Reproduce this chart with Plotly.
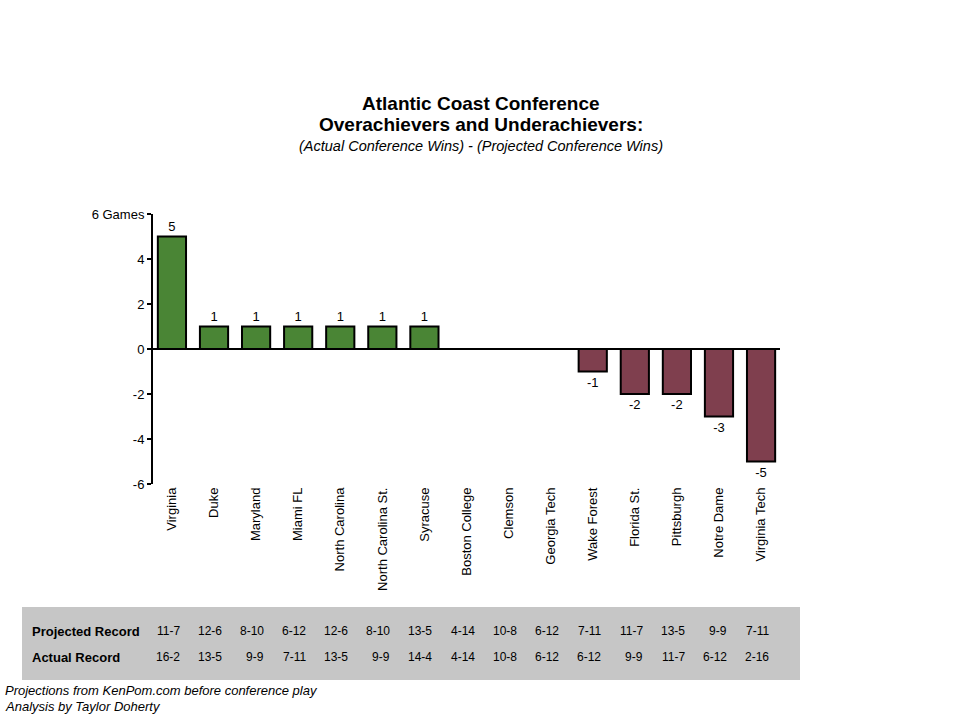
import plotly.graph_objects as go

teams = ['Virginia', 'Duke', 'Maryland', 'Miami FL', 'North Carolina', 'North Carolina St.',
         'Syracuse', 'Boston College', 'Clemson', 'Georgia Tech', 'Wake Forest',
         'Florida St.', 'Pittsburgh', 'Notre Dame', 'Virginia Tech']
diff = [5, 1, 1, 1, 1, 1, 1, 0, 0, 0, -1, -2, -2, -3, -5]
projected = ['11-7', '12-6', '8-10', '6-12', '12-6', '8-10', '13-5', '4-14',
             '10-8', '6-12', '7-11', '11-7', '13-5', '9-9', '7-11']
actual = ['16-2', '13-5', '9-9', '7-11', '13-5', '9-9', '14-4', '4-14',
          '10-8', '6-12', '6-12', '9-9', '11-7', '6-12', '2-16']
ytick_vals = [-6, -4, -2, 0, 2, 4, 6]
ytick_text = ['-6', '-4', '-2', '0', '2', '4', '6 Games']

FONT = 'Arial, Liberation Sans, sans-serif'
GREEN = '#4a8535'
MAROON = '#7f3f4e'

# px -> paper helpers (plot area: x 153..780, y 214..484)
L, R, T, B = 153, 780, 214, 484
def px_x(p):
    return (p - L) / (R - L)
def px_y(p):
    return (B - p) / (B - T)

colors = [GREEN if d > 0 else MAROON for d in diff]
labels = [str(d) if d != 0 else '' for d in diff]

fig = go.Figure()
fig.add_trace(go.Bar(
    x=teams, y=diff, width=0.67,
    marker=dict(color=colors, line=dict(color='black', width=2)),
    text=labels, textposition='outside', cliponaxis=False,
    textfont=dict(family=FONT, size=13, color='black'),
    hoverinfo='skip',
))

def note(x, y, text, size=12, xanchor='center', xref='paper', xshift=0):
    fig.add_annotation(x=x, y=y, xref=xref, yref='paper', showarrow=False,
                       xanchor=xanchor, yanchor='middle', xshift=xshift, text=text,
                       font=dict(family=FONT, size=size, color='black'))

# title block
note(px_x(481), px_y(104), '<b>Atlantic Coast Conference</b>', size=19)
note(px_x(481), px_y(124), '<b>Overachievers and Underachievers:</b>', size=19)
note(px_x(481), px_y(146), '<i>(Actual Conference Wins) - (Projected Conference Wins)</i>', size=14.5)

# record table
fig.add_shape(type='rect', xref='paper', yref='paper',
              x0=px_x(22), x1=px_x(800), y0=px_y(680), y1=px_y(607),
              fillcolor='#c6c6c6', line=dict(width=0), layer='below')
for row_name, row, py in [('Projected Record', projected, 631), ('Actual Record', actual, 657)]:
    note(px_x(30), px_y(py), '<b>' + row_name + '</b>', size=13, xanchor='left')
    for team, rec in zip(teams, row):
        note(team, px_y(py), rec, size=12, xanchor='right', xref='x', xshift=10)

# footer
note(px_x(3), px_y(690), '<i>Projections from KenPom.com before conference play</i>', size=13, xanchor='left')
note(px_x(3), px_y(706), '<i>Analysis by Taylor Doherty</i>', size=13, xanchor='left')

fig.update_layout(
    width=960, height=720,
    margin=dict(l=L, r=960 - R, t=T, b=720 - B),
    plot_bgcolor='white', paper_bgcolor='white',
    showlegend=False,
    font=dict(family=FONT, size=12, color='black'),
    xaxis=dict(range=[-0.45, 14.45], showline=False, ticks='', tickangle=-90,
               showgrid=False, zeroline=False, tickfont=dict(size=13)),
    yaxis=dict(range=[-6, 6], tickvals=ytick_vals, ticktext=ytick_text,
               showline=True, linecolor='black', linewidth=2,
               ticks='outside', ticklen=4, tickwidth=2, tickcolor='black',
               showgrid=False, zeroline=True, zerolinecolor='black', zerolinewidth=2,
               tickfont=dict(size=13)),
)

fig.write_html('out.html', config={'displayModeBar': False},
               post_script="document.body.style.margin='0';")
